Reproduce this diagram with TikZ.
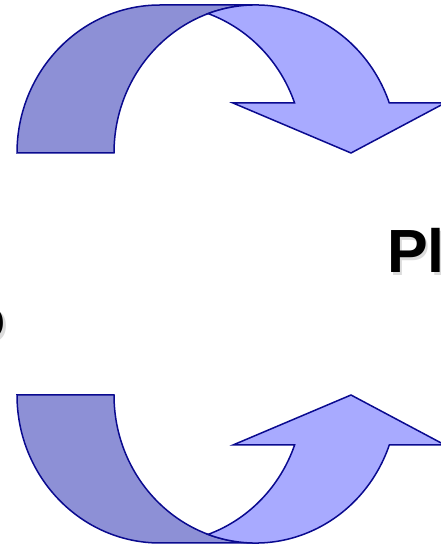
\documentclass[tikz,border=0pt]{standalone}
\usepackage{fontspec}
\setmainfont{Liberation Sans}
\definecolor{darkband}{HTML}{8D90D6}
\definecolor{lightband}{HTML}{A8AAFF}
\definecolor{bandline}{HTML}{0A0A8F}
\tikzset{
  band/.style={draw=bandline, line width=1.5pt, line join=miter},
  darkpart/.style={band, fill=darkband},
  lightpart/.style={band, fill=lightband},
  biglabel/.style={font=\fontsize{61}{61}\selectfont\bfseries, inner sep=0pt, text=black},
  shadowlabel/.style={biglabel, text=black!14}
}
\newcommand\myCurvedArrow{%
  \path[darkpart] (17,394)
    arc[start angle=180, end angle=90, x radius=143pt, y radius=148pt]
    -- (256,542)
    arc[start angle=90, end angle=180, x radius=142pt, y radius=148pt]
    -- cycle;
  \path[lightpart] (294.6,444)
    arc[start angle=19.74, end angle=70.39, x radius=143pt, y radius=148pt]
    arc[start angle=109.61, end angle=19.74, x radius=142pt, y radius=148pt]
    -- (445,444) -- (351,394) -- (233,444) -- cycle;
}
\begin{document}
\begin{tikzpicture}[x=1pt, y=1pt]
  \useasboundingbox (0,0) rectangle (441,547);
  \clip (0,0) rectangle (441,547);
  \fill[white] (0,0) rectangle (441,547);
  % labels with soft shadow
  \node[shadowlabel, anchor=base west] (plshadow) at (389.5,271.5) {Pl};
  \node[biglabel, anchor=base west] (pl) at (387,274) {Pl};
  \node[shadowlabel, anchor=base east] (doshadow) at (8.5,204.5) {o};
  \node[biglabel, anchor=base east] (do) at (6,207) {o};
  % top curved arrow
  \begin{scope}
    \myCurvedArrow
  \end{scope}
  % bottom curved arrow (mirror image)
  \begin{scope}[yshift=546pt, yscale=-1]
    \myCurvedArrow
  \end{scope}
\end{tikzpicture}
\end{document}
